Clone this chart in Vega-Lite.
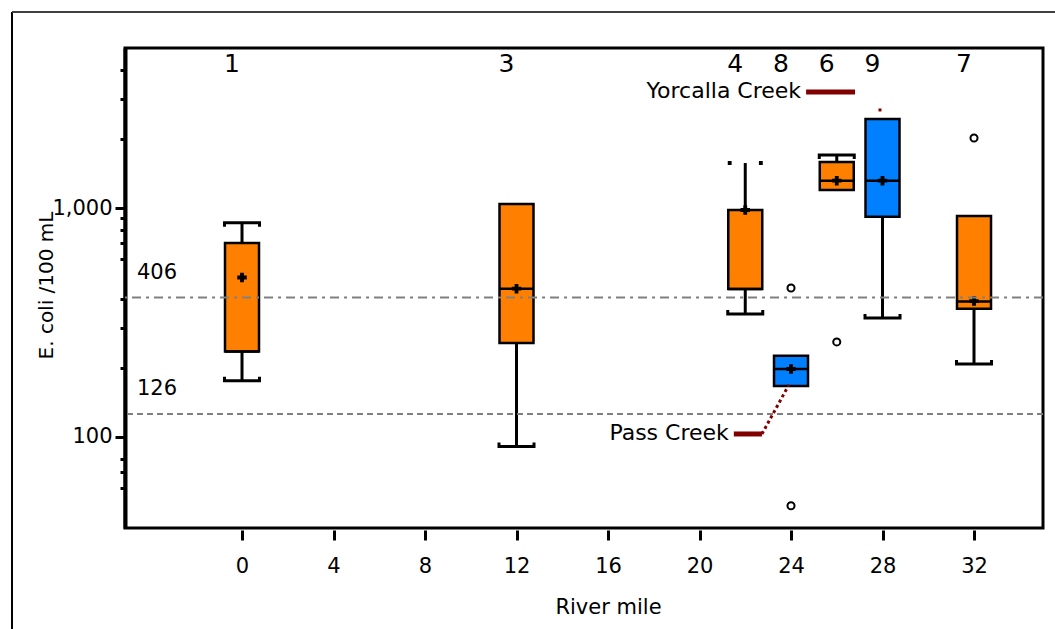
{
  "$schema": "https://vega.github.io/schema/vega-lite/v6.json",
  "width": 918,
  "height": 480,
  "autosize": {"type": "none"},
  "padding": {"left": 125, "top": 48, "right": 12, "bottom": 101},
  "background": "white",
  "config": {
    "font": "DejaVu Sans",
    "view": {"stroke": "black", "strokeWidth": 3},
    "axis": {"grid": false, "labelColor": "black", "titleColor": "black", "titleFontWeight": "normal", "labelFontSize": 21, "titleFontSize": 21}
  },
  "datasets": {
    "boxes": [
      {"site": 1, "mile": 0, "reach": "Mainstem", "lo": 176, "q1": 236, "med": 236, "q3": 703, "hi": 863, "mean": 497},
      {"site": 3, "mile": 12, "reach": "Mainstem", "lo": 90.7, "q1": 257, "med": 444, "q3": 1041, "hi": 1041, "mean": 444},
      {"site": 4, "mile": 22, "reach": "Mainstem", "lo": 344, "q1": 443, "med": 443, "q3": 980, "hi": 1572, "mean": 980},
      {"site": 8, "mile": 24, "reach": "Tributary", "lo": 167, "q1": 167, "med": 198, "q3": 226, "hi": 226, "mean": 198},
      {"site": 6, "mile": 26, "reach": "Mainstem", "lo": 1198, "q1": 1198, "med": 1316, "q3": 1588, "hi": 1704, "mean": 1316},
      {"site": 9, "mile": 28, "reach": "Tributary", "lo": 331, "q1": 916, "med": 1316, "q3": 2447, "hi": 2447, "mean": 1316},
      {"site": 7, "mile": 32, "reach": "Mainstem", "lo": 208, "q1": 363, "med": 390, "q3": 923, "hi": 923, "mean": 392}
    ],
    "outliers": [
      {"mile": 24, "value": 447},
      {"mile": 24, "value": 50},
      {"mile": 26, "value": 260},
      {"mile": 32, "value": 2022}
    ],
    "criteria": [
      {"value": 406, "label": "406", "kind": "single sample"},
      {"value": 126, "label": "126", "kind": "geometric mean"}
    ],
    "leaders": [
      {"creek": "Pass Creek", "mile": 21.5, "value": 103},
      {"creek": "Pass Creek", "mile": 22.73, "value": 103},
      {"creek": "Yorcalla Creek", "mile": 24.66, "value": 3213},
      {"creek": "Yorcalla Creek", "mile": 26.8, "value": 3213}
    ],
    "pointers": [
      {"creek": "Pass Creek", "mile": 22.73, "value": 103},
      {"creek": "Pass Creek", "mile": 23.91, "value": 169}
    ],
    "pointerEnds": [
      {"creek": "Yorcalla Creek", "mile": 27.89, "value": 2681}
    ],
    "frame": [
      {"left": -10.055, "right": 40, "top": 7178, "bottom": 10}
    ]
  },
  "encoding": {
    "x": {"type": "quantitative", "scale": {"domain": [-5.115, 35.016], "nice": false, "zero": false, "padding": 0},
      "axis": {"values": [0, 4, 8, 12, 16, 20, 24, 28, 32], "domain": false, "tickSize": 10, "tickWidth": 3, "tickColor": "black", "offset": 2, "labelPadding": 15, "title": "River mile", "titleX": 483, "titleY": 77, "titleBaseline": "middle"}},
    "y": {"type": "quantitative", "scale": {"type": "log", "domain": [40, 5000], "nice": false, "padding": 0},
      "axis": {"values": [60, 70, 80, 100, 200, 300, 400, 600, 700, 800, 900, 1000, 2000, 3000, 4000], "labelExpr": "datum.value == 100 ? '100' : datum.value == 1000 ? '1,000' : ''", "labelOverlap": false, "labelPadding": 3, "tickSize": {"condition": {"test": "datum.value == 100 || datum.value == 1000", "value": 10}, "value": 5}, "tickWidth": 3, "tickColor": "black", "domain": true, "domainColor": "black", "domainWidth": 4, "title": "E. coli /100 mL", "titleFontSize": 20, "titleX": -79, "titleY": 237, "titleAngle": -90, "titleAlign": "center", "titleBaseline": "middle"}}
  },
  "layer": [
    {
      "data": {"name": "boxes"},
      "mark": {"type": "rule", "color": "black", "strokeWidth": 3},
      "encoding": {"x": {"field": "mile"}, "y": {"field": "lo"}, "y2": {"field": "q1"}}
    },
    {
      "data": {"name": "boxes"},
      "mark": {"type": "rule", "color": "black", "strokeWidth": 3},
      "encoding": {"x": {"field": "mile"}, "y": {"field": "q3"}, "y2": {"field": "hi"}}
    },
    {
      "data": {"name": "boxes"},
      "transform": [{"filter": "datum.lo < datum.q1"}],
      "mark": {"type": "point", "shape": "M-1,-0.23L-1,0L1,0L1,-0.23", "size": 1225, "filled": false, "stroke": "black", "strokeWidth": 3, "opacity": 1},
      "encoding": {"x": {"field": "mile"}, "y": {"field": "lo"}}
    },
    {
      "data": {"name": "boxes"},
      "transform": [{"filter": "datum.hi > datum.q3 && datum.site != 4"}],
      "mark": {"type": "point", "shape": "M-1,0.23L-1,0L1,0L1,0.23", "size": 1225, "filled": false, "stroke": "black", "strokeWidth": 3, "opacity": 1},
      "encoding": {"x": {"field": "mile"}, "y": {"field": "hi"}}
    },
    {
      "data": {"name": "boxes"},
      "transform": [{"filter": "datum.site == 4"}],
      "mark": {"type": "point", "shape": "M-1,0L-0.78,0M0.78,0L1,0", "size": 1225, "filled": false, "stroke": "black", "strokeWidth": 4, "opacity": 1},
      "encoding": {"x": {"field": "mile"}, "y": {"field": "hi"}}
    },
    {
      "data": {"name": "boxes"},
      "mark": {"type": "bar", "width": 34, "stroke": "black", "strokeWidth": 2.5, "opacity": 1},
      "encoding": {
        "x": {"field": "mile"}, "y": {"field": "q1"}, "y2": {"field": "q3"},
        "color": {"field": "reach", "type": "nominal", "scale": {"domain": ["Mainstem", "Tributary"], "range": ["#FF8000", "#0080FF"]}, "legend": null}
      }
    },
    {
      "data": {"name": "boxes"},
      "mark": {"type": "tick", "orient": "horizontal", "size": 34, "thickness": 2.5, "color": "black", "opacity": 1},
      "encoding": {"x": {"field": "mile"}, "y": {"field": "med"}}
    },
    {
      "data": {"name": "boxes"},
      "mark": {"type": "point", "shape": "cross", "size": 90, "filled": true, "color": "black", "opacity": 1},
      "encoding": {"x": {"field": "mile"}, "y": {"field": "mean"}}
    },
    {
      "data": {"name": "outliers"},
      "mark": {"type": "point", "shape": "circle", "size": 50, "filled": false, "stroke": "black", "strokeWidth": 2, "opacity": 1},
      "encoding": {"x": {"field": "mile"}, "y": {"field": "value"}}
    },
    {
      "data": {"name": "criteria"},
      "mark": {"type": "rule", "color": "#808080", "strokeWidth": 2},
      "encoding": {
        "x": null,
        "y": {"field": "value"},
        "strokeDash": {"field": "kind", "type": "nominal", "scale": {"domain": ["single sample", "geometric mean"], "range": [[9, 5, 3, 5], [6, 4]]}, "legend": null}
      }
    },
    {
      "data": {"name": "criteria"},
      "mark": {"type": "text", "align": "left", "baseline": "alphabetic", "dy": -19, "fontSize": 21, "color": "black"},
      "encoding": {"x": {"datum": -4.59}, "y": {"field": "value"}, "text": {"field": "label"}}
    },
    {
      "data": {"name": "boxes"},
      "mark": {"type": "text", "align": "center", "baseline": "middle", "dx": -10, "fontSize": 25, "color": "black"},
      "encoding": {"x": {"field": "mile"}, "y": {"datum": 4240}, "text": {"field": "site"}}
    },
    {
      "data": {"name": "leaders"},
      "mark": {"type": "line", "color": "#800000", "strokeWidth": 5},
      "encoding": {"x": {"field": "mile"}, "y": {"field": "value"}, "detail": {"field": "creek"}}
    },
    {
      "data": {"name": "pointers"},
      "mark": {"type": "line", "color": "#800000", "strokeWidth": 3, "strokeDash": [3, 3]},
      "encoding": {"x": {"field": "mile"}, "y": {"field": "value"}, "detail": {"field": "creek"}}
    },
    {
      "data": {"name": "pointerEnds"},
      "mark": {"type": "point", "shape": "square", "size": 9, "filled": true, "color": "#800000", "opacity": 1},
      "encoding": {"x": {"field": "mile"}, "y": {"field": "value"}}
    },
    {
      "data": {"name": "leaders"},
      "transform": [{"aggregate": [{"op": "min", "field": "mile", "as": "start"}, {"op": "min", "field": "value", "as": "level"}], "groupby": ["creek"]}],
      "mark": {"type": "text", "align": "right", "baseline": "middle", "dx": -5, "dy": -1, "fontSize": 22, "color": "black"},
      "encoding": {"x": {"field": "start"}, "y": {"field": "level"}, "text": {"field": "creek"}}
    },
    {
      "data": {"name": "frame"},
      "mark": {"type": "rule", "color": "black", "strokeWidth": 2},
      "encoding": {"x": {"field": "left"}, "y": {"field": "top"}, "y2": {"field": "bottom"}}
    },
    {
      "data": {"name": "frame"},
      "mark": {"type": "rule", "color": "#404040", "strokeWidth": 2},
      "encoding": {"x": {"field": "left"}, "x2": {"field": "right"}, "y": {"field": "top"}}
    }
  ]
}
